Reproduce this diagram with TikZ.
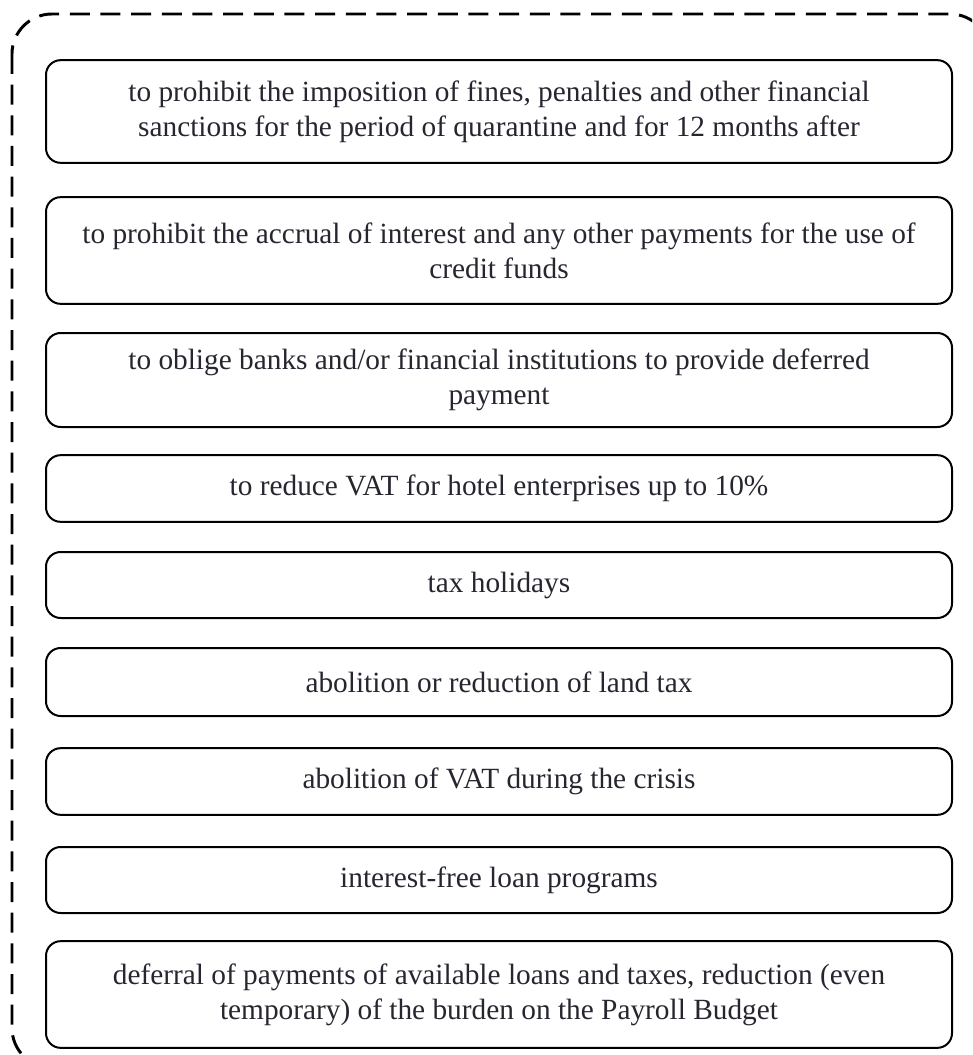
\documentclass[tikz,border=0pt]{standalone}
\usepackage{fontspec}
\setmainfont{Liberation Serif}
\usepackage{xcolor}
\definecolor{inktext}{RGB}{38,38,48}

\begin{document}
\begin{tikzpicture}[x=0.75pt,y=-0.75pt]
\useasboundingbox (0,0) rectangle (972,1055);
\clip (0,0) rectangle (972,1055);

\draw[line width=2.2pt, dash pattern=on 15pt off 8pt, rounded corners=30pt] (12,14) rectangle (990,1068);

\begin{scope}[every node/.style={rectangle,rounded corners=11pt,draw,line width=1.5pt,minimum width=679.5pt,align=center,text=inktext,inner sep=0pt,font=\fontsize{22}{26.5}\selectfont}]
\node[minimum height=77pt] (m1) at (499,111.5) {to prohibit the imposition of fines, penalties and other financial\\sanctions for the period of quarantine and for 12 months after};
\node[minimum height=80pt] (m2) at (499,250.5) {to prohibit the accrual of interest and any other payments for the use of\\credit funds};
\node[minimum height=70.5pt] (m3) at (499,380) {to oblige banks and/or financial institutions to provide deferred\\payment};
\node[minimum height=50pt] (m4) at (499,488.5) {to reduce VAT for hotel enterprises up to 10\%};
\node[minimum height=49.5pt] (m5) at (499,585) {tax holidays};
\node[minimum height=51pt] (m6) at (499,682) {abolition or reduction of land tax};
\node[minimum height=50pt] (m7) at (499,781.5) {abolition of VAT during the crisis};
\node[minimum height=49.5pt] (m8) at (499,880) {interest-free loan programs};
\node[minimum height=80pt] (m9) at (499,994.5) {deferral of payments of available loans and taxes, reduction (even\\temporary) of the burden on the Payroll Budget};
\end{scope}

\end{tikzpicture}
\end{document}
